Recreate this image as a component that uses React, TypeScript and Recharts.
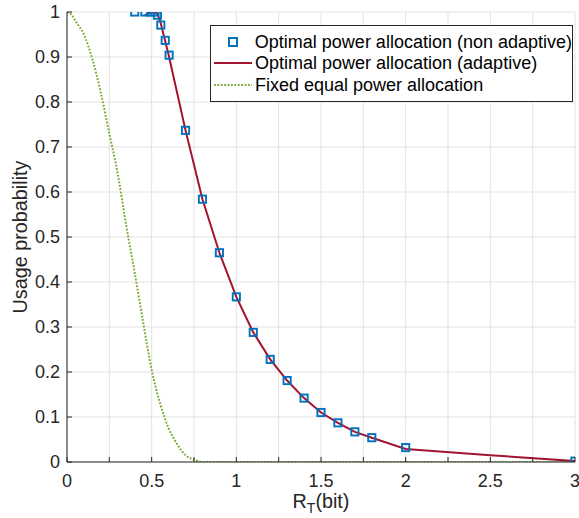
import { ComposedChart, Line, Scatter, XAxis, YAxis, CartesianGrid, Legend } from "recharts";

// Usage probability vs target rate R_T — three power allocation schemes.

const FONT = "'Liberation Sans', Arial, Helvetica, sans-serif";
const INK = "#262626";
const BLUE = "#0072BD";
const RED = "#A2142F";
const GREEN = "#77AC30";

const X_TICKS = [0, 0.25, 0.5, 0.75, 1, 1.25, 1.5, 1.75, 2, 2.25, 2.5, 2.75, 3];
const Y_TICKS = [0, 0.1, 0.2, 0.3, 0.4, 0.5, 0.6, 0.7, 0.8, 0.9, 1];

// Optimal power allocation (non adaptive) — square markers
const nonAdaptiveX = [0.4, 0.46, 0.495, 0.52, 0.534, 0.554, 0.58, 0.603, 0.7, 0.8, 0.9, 1.0, 1.1, 1.2, 1.3, 1.4, 1.5, 1.6, 1.7, 1.8, 2.0, 3.0];
const nonAdaptiveY = [1.0, 1.0, 1.0, 1.0, 0.993, 0.971, 0.937, 0.904, 0.737, 0.584, 0.465, 0.367, 0.288, 0.228, 0.181, 0.142, 0.11, 0.087, 0.067, 0.054, 0.032, 0.002];

// Optimal power allocation (adaptive) — solid line
const adaptiveX = [0.46, 0.48, 0.5, 0.52, 0.535, 0.55, 0.565, 0.58, 0.6, 0.7, 0.8, 0.9, 1.0, 1.1, 1.2, 1.3, 1.4, 1.5, 1.6, 1.7, 1.8, 2.0, 2.5, 3.0];
const adaptiveY = [0.993, 0.997, 0.999, 1.0, 0.995, 0.98, 0.958, 0.935, 0.905, 0.737, 0.584, 0.465, 0.367, 0.288, 0.228, 0.181, 0.142, 0.11, 0.087, 0.067, 0.054, 0.029, 0.015, 0.002];

// Fixed equal power allocation — dotted line
const fixedX = [0, 0.025, 0.05, 0.1, 0.15, 0.2, 0.25, 0.3, 0.35, 0.4, 0.45, 0.5, 0.55, 0.6, 0.65, 0.7, 0.75, 0.8, 1, 1.5, 2, 2.5, 3];
const fixedY = [1.0, 0.995, 0.98, 0.95, 0.895, 0.82, 0.73, 0.64, 0.525, 0.42, 0.31, 0.205, 0.13, 0.075, 0.04, 0.015, 0.005, 0, 0, 0, 0, 0, 0];

const nonAdaptive = nonAdaptiveX.map((x, i) => ({ x, y: nonAdaptiveY[i] }));
const adaptive = adaptiveX.map((x, i) => ({ x, y: adaptiveY[i] }));
const fixed = fixedX.map((x, i) => ({ x, y: fixedY[i] }));

const fmt = (v: number) => String(Math.round(v * 100) / 100);

function BottomTick({ x, y, payload }: any) {
  const v = payload.value as number;
  const labelled = Math.abs(v * 2 - Math.round(v * 2)) < 1e-6;
  return (
    <g>
      <line x1={x} x2={x} y1={y} y2={y - 5} stroke={INK} />
      {labelled && (
        <text x={x} y={y + 25} textAnchor="middle" fontSize={18} fontFamily={FONT} fill={INK}>
          {fmt(v)}
        </text>
      )}
    </g>
  );
}

function LeftTick({ x, y, payload }: any) {
  return (
    <g>
      <line x1={x} x2={x + 5} y1={y} y2={y} stroke={INK} />
      <text x={x - 7} y={y + 6.3} textAnchor="end" fontSize={18} fontFamily={FONT} fill={INK}>
        {fmt(payload.value)}
      </text>
    </g>
  );
}

function TopTick({ x, y }: any) {
  return <line x1={x} x2={x} y1={y} y2={y + 5} stroke={INK} />;
}

function RightTick({ x, y }: any) {
  return <line x1={x} x2={x - 5} y1={y} y2={y} stroke={INK} />;
}

function XLabel({ viewBox }: any) {
  const cx = viewBox.x + viewBox.width / 2;
  return (
    <text x={cx} y={508} textAnchor="middle" fontSize={19.8} fontFamily={FONT} fill={INK}>
      R<tspan dy={5} fontSize={14}>T</tspan>
      <tspan dy={-5}>(bit)</tspan>
    </text>
  );
}

function YLabel({ viewBox }: any) {
  const cy = viewBox.y + viewBox.height / 2;
  return (
    <text
      x={20}
      y={cy}
      transform={`rotate(-90 20 ${cy})`}
      textAnchor="middle"
      dominantBaseline="central"
      fontSize={19.8}
      fontFamily={FONT}
      fill={INK}
    >
      Usage probability
    </text>
  );
}

function SquareMarker({ cx, cy }: any) {
  return <rect x={cx - 3.6} y={cy - 3.6} width={7.2} height={7.2} fill="none" stroke={BLUE} strokeWidth={1.9} />;
}

function LegendBox() {
  const row = { display: "flex", alignItems: "center", height: 21.5 } as const;
  const sample = { width: 44, display: "flex", justifyContent: "center", alignItems: "center" } as const;
  return (
    <div
      style={{
        width: 361,
        height: 70,
        border: `1px solid ${INK}`,
        background: "#fff",
        fontFamily: FONT,
        fontSize: 18,
        color: "#000",
        paddingTop: 5,
        boxSizing: "content-box",
        lineHeight: 1,
        whiteSpace: "nowrap",
      }}
    >
      <div style={row}>
        <span style={sample}>
          <span style={{ width: 5.5, height: 5.5, border: `2px solid ${BLUE}` }} />
        </span>
        <span>Optimal power allocation (non adaptive)</span>
      </div>
      <div style={row}>
        <span style={sample}>
          <span style={{ width: 38, height: 0, borderTop: `2px solid ${RED}` }} />
        </span>
        <span>Optimal power allocation (adaptive)</span>
      </div>
      <div style={row}>
        <span style={sample}>
          <svg width={38} height={4}>
            <line x1={0} x2={38} y1={2} y2={2} stroke={GREEN} strokeWidth={2} strokeDasharray="1.8 1.6" />
          </svg>
        </span>
        <span>Fixed equal power allocation</span>
      </div>
    </div>
  );
}

export default function App() {
  return (
    <div style={{ position: "absolute", left: 0, top: 0, width: 579, height: 518, background: "#fff" }}>
      <ComposedChart width={579} height={518} margin={{ top: 12, right: 4, bottom: 0, left: 0 }}>
        <CartesianGrid stroke="#e3e3e3" strokeWidth={1} />
        <XAxis
          type="number" dataKey="x" domain={[0, 3]} ticks={X_TICKS} allowDataOverflow
          height={56} tickSize={0} tickMargin={0} tickLine={false} interval={0}
          axisLine={{ stroke: INK }} tick={<BottomTick />} label={<XLabel />}
        />
        <XAxis
          xAxisId="top" orientation="top" type="number" domain={[0, 3]} ticks={X_TICKS} allowDataOverflow
          height={0} tickSize={0} tickMargin={0} tickLine={false} interval={0}
          axisLine={{ stroke: INK }} tick={<TopTick />}
        />
        <YAxis
          type="number" dataKey="y" domain={[0, 1]} ticks={Y_TICKS} allowDataOverflow
          width={67} tickSize={0} tickMargin={0} tickLine={false} interval={0}
          axisLine={{ stroke: INK }} tick={<LeftTick />} label={<YLabel />}
        />
        <YAxis
          yAxisId="right" orientation="right" type="number" domain={[0, 1]} ticks={Y_TICKS} allowDataOverflow
          width={0} tickSize={0} tickMargin={0} tickLine={false} interval={0}
          axisLine={{ stroke: INK }} tick={<RightTick />}
        />
        <Line
          data={fixed} dataKey="y" type="monotone" stroke={GREEN} strokeWidth={2}
          strokeDasharray="1.8 1.6" dot={false} isAnimationActive={false}
        />
        <Scatter data={nonAdaptive} dataKey="y" shape={<SquareMarker />} isAnimationActive={false} />
        <Line
          data={adaptive} dataKey="y" type="linear" stroke={RED} strokeWidth={2}
          dot={false} isAnimationActive={false}
        />
        <Legend
          layout="vertical" align="center" verticalAlign="middle"
          wrapperStyle={{ position: "absolute", left: 210, top: 25, width: "auto" }}
          content={<LegendBox />}
        />
      </ComposedChart>
    </div>
  );
}
